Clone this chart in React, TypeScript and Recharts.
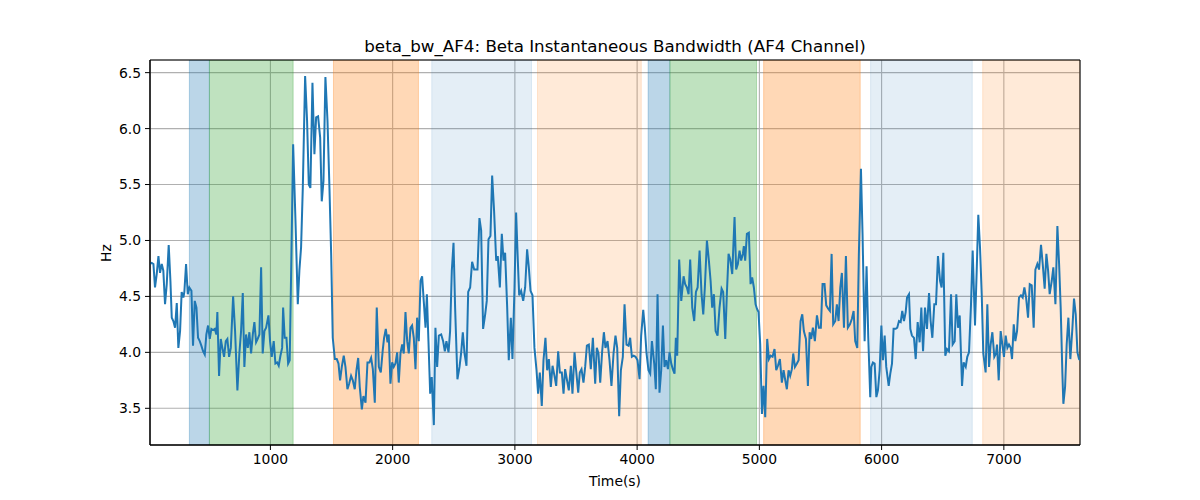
import { CartesianGrid, Line, LineChart, ReferenceArea, XAxis, YAxis } from 'recharts'

// sample times (s)
const times = [
	15, 29, 43, 56, 70, 84, 97, 111, 124, 138, 152, 168, 182, 193, 206, 220, 234, 247, 261, 274,
	288, 296, 310, 324, 337, 354, 367, 381, 395, 408, 422, 435, 449, 463, 476, 490, 504, 517, 531, 545,
	558, 566, 580, 594, 607, 621, 635, 648, 662, 676, 695, 711, 730, 746, 760, 774, 787, 801, 815, 828,
	842, 856, 869, 883, 896, 910, 924, 937, 951, 965, 984, 997, 1011, 1027, 1041, 1055, 1068, 1082, 1096, 1104,
	1117, 1131, 1145, 1158, 1172, 1186, 1205, 1224, 1237, 1251, 1265, 1284, 1300, 1314, 1327, 1344, 1360, 1374, 1390, 1407,
	1420, 1434, 1450, 1467, 1483, 1497, 1510, 1527, 1543, 1557, 1570, 1584, 1600, 1614, 1630, 1644, 1660, 1674, 1690, 1704,
	1718, 1731, 1748, 1761, 1778, 1794, 1810, 1824, 1838, 1854, 1870, 1887, 1903, 1919, 1930, 1944, 1958, 1968, 1982, 1996,
	2009, 2023, 2037, 2050, 2064, 2078, 2091, 2105, 2119, 2132, 2146, 2159, 2173, 2187, 2200, 2214, 2228, 2241, 2255, 2269,
	2280, 2293, 2307, 2320, 2337, 2350, 2364, 2378, 2397, 2413, 2427, 2440, 2457, 2470, 2484, 2498, 2511, 2530, 2547, 2560,
	2574, 2588, 2604, 2618, 2634, 2650, 2667, 2680, 2694, 2710, 2724, 2740, 2757, 2770, 2784, 2800, 2814, 2830, 2847, 2860,
	2877, 2893, 2907, 2920, 2937, 2950, 2967, 2980, 2997, 3010, 3024, 3035, 3051, 3068, 3084, 3100, 3114, 3128, 3144, 3160,
	3177, 3190, 3204, 3220, 3234, 3250, 3264, 3278, 3294, 3308, 3324, 3338, 3354, 3368, 3384, 3398, 3411, 3425, 3441, 3458,
	3471, 3488, 3501, 3518, 3531, 3545, 3561, 3575, 3589, 3605, 3621, 3638, 3657, 3670, 3684, 3698, 3714, 3728, 3741, 3758,
	3774, 3790, 3807, 3823, 3837, 3853, 3867, 3883, 3897, 3913, 3930, 3943, 3957, 3971, 3987, 4003, 4020, 4033, 4050, 4063,
	4077, 4093, 4107, 4121, 4140, 4153, 4167, 4183, 4197, 4211, 4224, 4238, 4252, 4265, 4279, 4292, 4306, 4317, 4328, 4344,
	4361, 4380, 4393, 4407, 4421, 4434, 4451, 4467, 4481, 4495, 4511, 4527, 4541, 4554, 4571, 4587, 4601, 4614, 4628, 4642,
	4658, 4674, 4691, 4704, 4721, 4734, 4748, 4762, 4778, 4797, 4810, 4824, 4838, 4851, 4865, 4873, 4884, 4898, 4914, 4928,
	4941, 4955, 4969, 4980, 4993, 5007, 5021, 5034, 5048, 5064, 5078, 5092, 5108, 5124, 5138, 5152, 5168, 5184, 5198, 5212,
	5225, 5239, 5252, 5266, 5277, 5291, 5307, 5321, 5337, 5351, 5364, 5381, 5397, 5411, 5424, 5438, 5454, 5471, 5487, 5503,
	5517, 5533, 5547, 5563, 5577, 5591, 5604, 5621, 5634, 5648, 5662, 5675, 5692, 5708, 5724, 5741, 5757, 5771, 5784, 5801,
	5814, 5831, 5844, 5861, 5877, 5891, 5907, 5916, 5929, 5943, 5957, 5970, 5984, 5998, 6011, 6025, 6038, 6058, 6071, 6085,
	6098, 6115, 6128, 6142, 6156, 6169, 6183, 6197, 6208, 6224, 6235, 6248, 6265, 6279, 6295, 6311, 6325, 6339, 6355, 6371,
	6388, 6401, 6415, 6431, 6445, 6461, 6478, 6491, 6505, 6521, 6535, 6551, 6568, 6581, 6598, 6611, 6625, 6639, 6658, 6671,
	6688, 6701, 6715, 6731, 6745, 6764, 6778, 6791, 6805, 6819, 6832, 6851, 6865, 6879, 6892, 6906, 6922, 6936, 6944, 6958,
	6974, 6988, 7001, 7015, 7029, 7042, 7056, 7067, 7081, 7094, 7108, 7124, 7140, 7154, 7168, 7182, 7198, 7212, 7228, 7244,
	7258, 7274, 7288, 7304, 7318, 7334, 7348, 7362, 7375, 7392, 7405, 7422, 7438, 7452, 7465, 7479, 7487, 7501, 7514, 7528,
	7544, 7561, 7574, 7588, 7602, 7615, 7623,
]

// beta bandwidth (Hz)
const hz = [
	4.79, 4.80, 4.79, 4.58, 4.70, 4.86, 4.71, 4.79, 4.73, 4.43, 4.61, 4.96, 4.64, 4.31, 4.28, 4.22, 4.44, 4.04, 4.19, 4.54,
	4.49, 4.54, 4.79, 4.52, 4.58, 4.55, 4.06, 4.46, 4.40, 4.13, 4.10, 4.06, 4.01, 3.98, 4.16, 4.24, 4.12, 4.21, 4.20, 4.21,
	4.16, 4.36, 3.79, 4.12, 4.04, 3.96, 4.10, 4.12, 3.96, 4.04, 4.50, 4.19, 3.66, 3.99, 4.19, 4.53, 3.87, 4.16, 4.04, 4.18,
	3.99, 4.16, 4.27, 4.09, 4.12, 4.16, 4.76, 3.99, 4.19, 4.22, 4.33, 4.10, 3.96, 4.10, 3.90, 3.91, 3.88, 3.97, 4.04, 4.40,
	4.13, 4.13, 3.90, 3.93, 4.88, 5.86, 5.18, 4.43, 4.73, 4.94, 5.47, 6.47, 6.07, 5.50, 5.47, 6.41, 5.77, 6.10, 6.11, 5.92,
	5.35, 5.53, 6.46, 6.07, 5.47, 4.88, 4.13, 3.94, 3.94, 3.90, 3.75, 3.87, 3.97, 3.87, 3.67, 3.72, 3.79, 3.75, 3.67, 3.84,
	3.95, 3.69, 3.49, 3.61, 3.55, 3.91, 3.91, 3.95, 3.85, 3.55, 4.40, 3.87, 3.82, 4.02, 4.13, 4.21, 4.09, 4.16, 3.72, 3.91,
	3.87, 3.90, 4.00, 3.73, 3.99, 4.07, 3.99, 4.36, 4.10, 3.99, 4.22, 4.24, 4.13, 3.85, 4.31, 4.10, 4.64, 4.68, 4.45, 4.22,
	4.52, 4.10, 3.63, 3.78, 3.35, 4.22, 3.87, 4.15, 4.16, 4.10, 4.01, 4.10, 4.00, 4.19, 4.73, 4.98, 4.40, 3.76, 3.87, 3.99,
	4.18, 3.99, 3.88, 4.54, 4.58, 4.81, 4.74, 4.74, 4.74, 5.20, 5.09, 4.21, 4.34, 4.46, 5.01, 5.04, 5.58, 5.26, 4.82, 4.86,
	4.58, 5.06, 4.82, 4.89, 4.40, 3.93, 4.31, 3.94, 4.58, 5.25, 4.82, 4.51, 4.55, 4.46, 4.58, 4.92, 4.76, 4.55, 4.51, 4.04,
	3.84, 3.63, 3.82, 3.52, 3.93, 4.13, 3.84, 3.94, 3.69, 3.88, 3.79, 3.70, 4.01, 3.82, 3.82, 3.63, 3.85, 3.76, 3.66, 3.88,
	3.63, 4.00, 3.84, 3.64, 3.82, 3.85, 3.73, 3.87, 4.06, 4.07, 3.85, 4.13, 3.72, 4.04, 3.99, 3.73, 4.01, 4.18, 4.04, 4.10,
	3.93, 3.70, 3.99, 4.15, 4.04, 3.43, 3.84, 3.96, 4.43, 4.07, 4.06, 4.13, 3.96, 3.97, 3.96, 3.93, 3.76, 4.15, 4.38, 4.22,
	3.99, 3.84, 3.81, 4.10, 3.90, 3.67, 4.52, 3.64, 3.84, 4.24, 3.87, 3.93, 3.85, 4.00, 3.90, 3.85, 3.81, 4.13, 3.97, 4.83,
	4.46, 4.68, 4.61, 4.58, 4.52, 4.83, 4.40, 4.28, 4.54, 4.58, 4.91, 4.52, 4.34, 4.58, 5.00, 4.82, 4.64, 4.40, 4.52, 4.19,
	4.15, 4.40, 4.57, 4.54, 4.12, 4.52, 4.88, 4.83, 4.70, 5.21, 4.74, 4.79, 4.91, 4.82, 4.88, 4.95, 4.82, 5.06, 5.07, 4.61,
	4.67, 4.58, 4.43, 4.39, 4.36, 4.07, 3.45, 3.70, 3.42, 4.12, 3.94, 3.97, 3.96, 4.03, 3.84, 3.88, 3.94, 3.73, 3.84, 3.75,
	3.67, 3.84, 3.79, 3.85, 3.99, 3.87, 3.90, 3.93, 4.28, 4.34, 4.19, 4.12, 3.70, 4.18, 4.12, 4.22, 4.10, 4.33, 4.22, 4.22,
	4.61, 4.61, 4.42, 4.39, 4.37, 4.88, 4.25, 4.28, 4.43, 4.28, 4.58, 4.71, 4.22, 4.86, 4.22, 4.25, 4.30, 4.37, 4.10, 4.04,
	4.88, 5.64, 5.06, 4.10, 4.77, 4.13, 3.60, 3.87, 3.91, 3.90, 3.60, 3.66, 3.84, 4.24, 3.93, 4.15, 3.87, 3.70, 3.81, 3.90,
	4.21, 4.21, 4.22, 4.28, 4.27, 4.37, 4.28, 4.36, 4.49, 4.52, 4.21, 4.15, 4.13, 3.94, 4.27, 4.09, 4.40, 4.01, 4.40, 4.21,
	4.53, 4.28, 4.13, 4.43, 4.43, 4.86, 4.64, 4.58, 4.89, 3.97, 4.03, 4.01, 4.52, 4.07, 4.10, 4.52, 4.22, 4.33, 3.70, 3.91,
	3.87, 3.96, 4.00, 4.42, 4.91, 4.24, 4.73, 5.23, 4.94, 4.52, 3.99, 3.82, 4.43, 3.87, 4.07, 4.18, 3.96, 3.99, 4.07, 3.75,
	4.19, 4.07, 3.96, 4.15, 4.04, 4.07, 4.04, 3.94, 4.25, 4.10, 4.19, 4.49, 4.51, 4.49, 4.58, 4.49, 4.31, 4.61, 4.60, 4.22,
	4.74, 4.79, 4.74, 4.96, 4.79, 4.57, 4.88, 4.73, 4.52, 4.64, 4.76, 4.43, 5.13, 4.79, 4.40, 3.81, 3.54, 3.69, 4.07, 4.31,
	3.94, 4.22, 4.48, 4.34, 4.00, 3.94, 3.93,
]

// shaded segments (start, end in s) and their kind
const bandStarts = [337, 501, 1516, 2320, 3185, 4090, 4268, 5035, 5910, 6827]
const bandEnds = [501, 1186, 2211, 3136, 4034, 4268, 4977, 5825, 6742, 7623]
const bandKinds = ['blue', 'green', 'orange', 'lightBlue', 'lightOrange', 'blue', 'green', 'orange', 'lightBlue', 'lightOrange']

const xTicks = [1000, 2000, 3000, 4000, 5000, 6000, 7000]
const yTicks = [3.5, 4.0, 4.5, 5.0, 5.5, 6.0, 6.5]

const X_DOMAIN: [number, number] = [15, 7623]
const Y_DOMAIN: [number, number] = [3.172, 6.613]

const bandStyle: Record<string, { color: string; alpha: number }> = {
	blue: { color: '#1f77b4', alpha: 0.3 },
	green: { color: '#2ca02c', alpha: 0.3 },
	orange: { color: '#ff7f0e', alpha: 0.3 },
	lightBlue: { color: '#1f77b4', alpha: 0.12 },
	lightOrange: { color: '#ff7f0e', alpha: 0.16 },
}

const FONT = '"DejaVu Sans", sans-serif'
const tickStyle = { fill: '#000', fontSize: 13.9, fontFamily: FONT }

const rows = times.map((t, i) => ({ t, hz: hz[i] }))

export default function App() {
	return (
		<div style={{ position: 'absolute', left: 0, top: 0, width: 1200, height: 500, background: '#fff', fontFamily: FONT }}>
			<LineChart width={1200} height={500} data={rows} margin={{ top: 60, right: 120, bottom: 25, left: 90 }}>
				<CartesianGrid stroke="#b0b0b0" strokeWidth={1.1} />
				{bandStarts.map((start, i) => {
					const s = bandStyle[bandKinds[i]]
					return (
						<ReferenceArea
							key={`band-${i}`}
							x1={start}
							x2={bandEnds[i]}
							y1={Y_DOMAIN[0]}
							y2={Y_DOMAIN[1]}
							fill={s.color}
							fillOpacity={s.alpha}
							stroke={s.color}
							strokeOpacity={s.alpha}
							ifOverflow="hidden"
						/>
					)
				})}
				<XAxis
					dataKey="t"
					type="number"
					domain={X_DOMAIN}
					ticks={xTicks}
					allowDataOverflow
					height={30}
					tickSize={5}
					tickMargin={4}
					tick={tickStyle}
					axisLine={{ stroke: '#000' }}
					tickLine={{ stroke: '#000' }}
				/>
				<YAxis
					type="number"
					domain={Y_DOMAIN}
					ticks={yTicks}
					allowDataOverflow
					width={60}
					tickSize={5}
					tickMargin={4}
					tick={tickStyle}
					tickFormatter={(v: number) => v.toFixed(1)}
					axisLine={{ stroke: '#000' }}
					tickLine={{ stroke: '#000' }}
				/>
				<Line
					dataKey="hz"
					stroke="#1f77b4"
					strokeWidth={2}
					dot={false}
					activeDot={false}
					isAnimationActive={false}
				/>
				<ReferenceArea
					x1={X_DOMAIN[0]}
					x2={X_DOMAIN[1]}
					y1={Y_DOMAIN[0]}
					y2={Y_DOMAIN[1]}
					fill="none"
					stroke="#000"
					strokeWidth={1}
				/>
			</LineChart>
			<div style={{ position: 'absolute', left: 150, width: 930, top: 36, lineHeight: '20px', textAlign: 'center', fontSize: 16.7, color: '#000' }}>
				beta_bw_AF4: Beta Instantaneous Bandwidth (AF4 Channel)
			</div>
			<div style={{ position: 'absolute', left: 150, width: 930, top: 471, lineHeight: '20px', textAlign: 'center', fontSize: 13.9, color: '#000' }}>
				Time(s)
			</div>
			<div
				style={{
					position: 'absolute',
					left: 76,
					top: 243,
					width: 60,
					lineHeight: '20px',
					textAlign: 'center',
					fontSize: 13.9,
					color: '#000',
					transform: 'rotate(-90deg)',
				}}
			>
				Hz
			</div>
		</div>
	)
}
